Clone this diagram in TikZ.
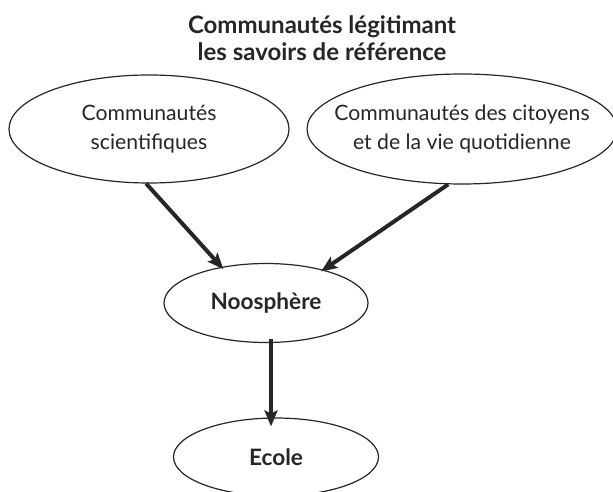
\documentclass[tikz,border=0pt]{standalone}
\usepackage{fontspec}
\setmainfont{Lato}
\usetikzlibrary{arrows.meta, shapes.geometric}

\begin{document}
\begin{tikzpicture}[x=0.5pt, y=-0.5pt,
  comm/.style={ellipse, draw=black!85, line width=0.6pt, inner sep=0pt,
               font=\fontsize{10.6}{14.5}\selectfont, align=center, text=black!85},
  hub/.style={ellipse, draw=black!85, line width=0.6pt, inner sep=0pt,
              minimum width=102pt, minimum height=39.5pt,
              font=\fontsize{11.3}{14}\selectfont\bfseries, text=black!85},
  arrow/.style={-{Stealth[length=8pt, width=6.5pt, inset=1.5pt]},
                line width=2pt, black!85}
]
  \useasboundingbox (0,0) rectangle (613,491);

  \node[font=\fontsize{12}{13.5}\selectfont\bfseries, align=center, text=black!85]
    (title) at (322,38) {Communautés légitimant\\les savoirs de référence};

  \node[comm, minimum width=140pt, minimum height=54pt] (sci) at (149,129)
    {Communautés\\scientifiques};
  \node[comm, inner xsep=-9pt, minimum width=150.5pt, minimum height=55pt]
    (cit) at (462,129) {Communautés des citoyens\\et de la vie quotidienne};

  \node[hub] (noo) at (266,303) {Noosphère};
  \node[hub, minimum width=102.5pt, minimum height=39pt] (eco) at (276,457) {Ecole};

  \draw[arrow, shorten >=-1.5pt] (sci.267) -- (noo.141);
  \draw[arrow, shorten >=-1.5pt] (cit.256) -- (noo.30);
  \draw[arrow, shorten <=-2pt, shorten >=-4.5pt]
    ([xshift=2.5pt]noo.south) -- ([xshift=-2.5pt]eco.north);
\end{tikzpicture}
\end{document}
